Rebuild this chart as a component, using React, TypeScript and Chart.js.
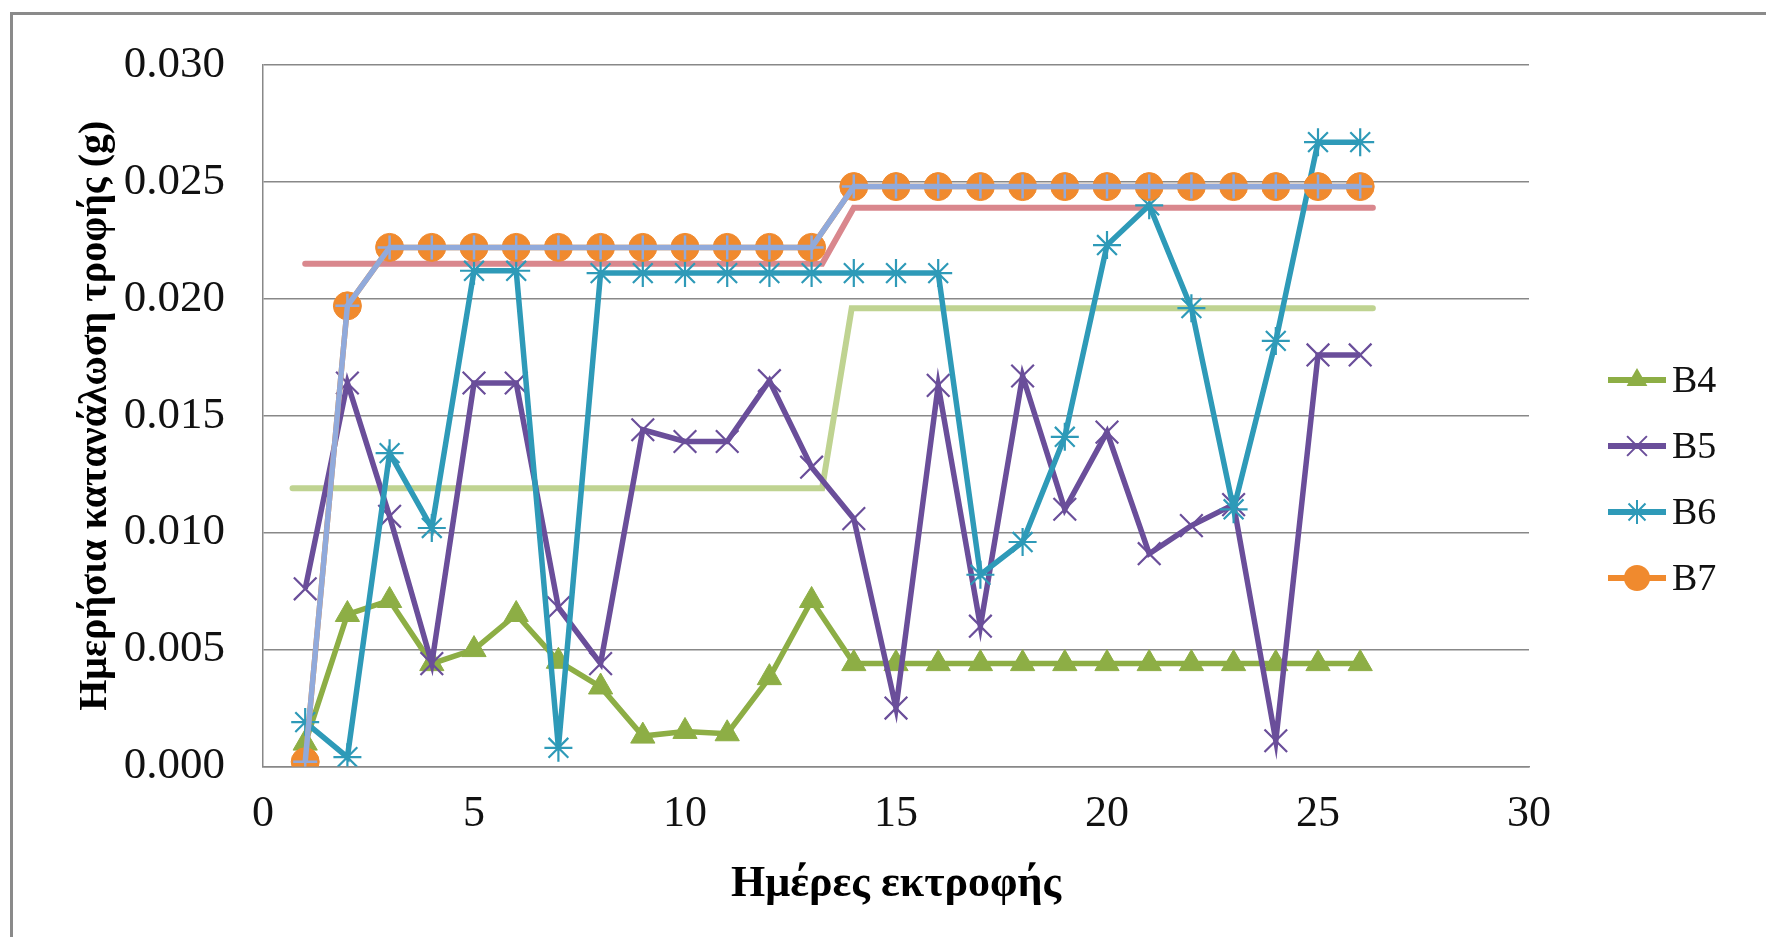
import React, { useEffect, useRef } from "react";
import { Chart, registerables } from "chart.js";

Chart.register(...registerables);

// ---- data ----
const days = [1, 2, 3, 4, 5, 6, 7, 8, 9, 10, 11, 12, 13, 14, 15, 16, 17, 18, 19, 20, 21, 22, 23, 24, 25, 26];
const b4 = [0.001, 0.0065, 0.0071, 0.0044, 0.005, 0.0065, 0.0045, 0.0034, 0.0013, 0.0015, 0.0014, 0.0038, 0.0071, 0.0044, 0.0044, 0.0044, 0.0044, 0.0044, 0.0044, 0.0044, 0.0044, 0.0044, 0.0044, 0.0044, 0.0044, 0.0044];
const b5 = [0.0076, 0.0164, 0.0107, 0.0044, 0.0164, 0.0164, 0.0068, 0.0044, 0.0144, 0.0139, 0.0139, 0.0165, 0.0128, 0.0106, 0.0025, 0.0163, 0.006, 0.0167, 0.011, 0.0143, 0.0091, 0.0103, 0.0112, 0.0011, 0.0176, 0.0176];
const b6 = [0.0019, 0.0004, 0.0134, 0.0102, 0.0212, 0.0212, 0.0008, 0.0211, 0.0211, 0.0211, 0.0211, 0.0211, 0.0211, 0.0211, 0.0211, 0.0211, 0.0082, 0.0096, 0.0141, 0.0223, 0.024, 0.0196, 0.011, 0.0182, 0.0267, 0.0267];
const b7 = [0.0002, 0.0197, 0.0222, 0.0222, 0.0222, 0.0222, 0.0222, 0.0222, 0.0222, 0.0222, 0.0222, 0.0222, 0.0222, 0.0248, 0.0248, 0.0248, 0.0248, 0.0248, 0.0248, 0.0248, 0.0248, 0.0248, 0.0248, 0.0248, 0.0248, 0.0248];
// unlabelled series drawn in light colours (no legend entry)
const blueOverlay = [0.0002, 0.0197, 0.0222, 0.0222, 0.0222, 0.0222, 0.0222, 0.0222, 0.0222, 0.0222, 0.0222, 0.0222, 0.0222, 0.0248, 0.0248, 0.0248, 0.0248, 0.0248, 0.0248, 0.0248, 0.0248, 0.0248, 0.0248, 0.0248, 0.0248, 0.0248];
const greenStepX = [0.7, 13.25, 13.95, 26.3];
const greenStepY = [0.0119, 0.0119, 0.0196, 0.0196];
const pinkStepX = [1, 13.25, 14, 26.3];
const pinkStepY = [0.0215, 0.0215, 0.0239, 0.0239];

const legendNames = ["B4", "B5", "B6", "B7"];
const xAxisTitle = "Ημέρες εκτροφής";
const yAxisTitle = "Ημερήσια κατανάλωση τροφής (g)";

const FONT = "'Liberation Serif', 'Times New Roman', serif";

const C_B4 = "#8DAE45";
const C_B5 = "#6A4E9A";
const C_B6 = "#2E9AB8";
const C_B7 = "#F08A2E";
const C_BLUE = "#91AADB";
const C_GREEN = "#BFD391";
const C_PINK = "#D9878D";

function pts(xs: number[], ys: number[]) {
  return xs.map((x, i) => ({ x, y: ys[i] }));
}

function drawMarker(ctx: CanvasRenderingContext2D, style: string, x: number, y: number, r: number, color: string) {
  ctx.save();
  ctx.fillStyle = color;
  ctx.strokeStyle = color;
  ctx.lineWidth = 2;
  ctx.beginPath();
  if (style === "triangle") {
    ctx.moveTo(x, y - r);
    ctx.lineTo(x + 0.866 * r, y + 0.5 * r);
    ctx.lineTo(x - 0.866 * r, y + 0.5 * r);
    ctx.closePath();
    ctx.fill();
  } else if (style === "circle") {
    ctx.arc(x, y, r, 0, Math.PI * 2);
    ctx.fill();
  } else {
    const o = r * 0.7071;
    ctx.moveTo(x - o, y - o);
    ctx.lineTo(x + o, y + o);
    ctx.moveTo(x + o, y - o);
    ctx.lineTo(x - o, y + o);
    if (style === "star") {
      ctx.moveTo(x, y - r);
      ctx.lineTo(x, y + r);
    }
    ctx.stroke();
  }
  ctx.restore();
}

const legendPlugin = {
  id: "excelLegend",
  afterDraw(chart: any) {
    const ctx: CanvasRenderingContext2D = chart.ctx;
    const entries = [
      { color: C_B4, style: "triangle", r: 12 },
      { color: C_B5, style: "crossRot", r: 14 },
      { color: C_B6, style: "star", r: 12 },
      { color: C_B7, style: "circle", r: 13 },
    ];
    ctx.save();
    legendNames.forEach((name, i) => {
      const e = entries[i];
      const y = 380 + i * 66;
      ctx.strokeStyle = e.color;
      ctx.lineWidth = 6;
      ctx.lineCap = "butt";
      ctx.beginPath();
      ctx.moveTo(1608, y);
      ctx.lineTo(1666, y);
      ctx.stroke();
      drawMarker(ctx, e.style, 1637, y, e.r, e.color);
      ctx.fillStyle = "#111";
      ctx.font = `38px ${FONT}`;
      ctx.textBaseline = "middle";
      ctx.textAlign = "left";
      ctx.fillText(name, 1672, y + 2);
    });
    ctx.restore();
  },
};

export default function App() {
  const ref = useRef<HTMLCanvasElement | null>(null);

  useEffect(() => {
    if (!ref.current) return;
    const line = (label: string, data: any[], color: string, width: number, extra: any) => ({
      label,
      data,
      showLine: true,
      borderColor: color,
      backgroundColor: color,
      borderWidth: width,
      pointBackgroundColor: color,
      pointBorderColor: color,
      tension: 0,
      ...extra,
    });
    const chart = new Chart(ref.current, {
      type: "scatter",
      data: {
        datasets: [
          line("S1", pts(days, blueOverlay), C_BLUE, 5.5, { pointStyle: "cross", pointRadius: 12, pointBorderWidth: 2.5 }),
          line("B7", pts(days, b7), C_B7, 5.5, { pointStyle: "circle", pointRadius: 14, pointBorderWidth: 1 }),
          line("B6", pts(days, b6), C_B6, 5.5, { pointStyle: "star", pointRadius: 14, pointBorderWidth: 2.2 }),
          line("B5", pts(days, b5), C_B5, 5.5, { pointStyle: "crossRot", pointRadius: 16, pointBorderWidth: 2.2 }),
          line("B4", pts(days, b4), C_B4, 5.5, { pointStyle: "triangle", pointRadius: 14, pointBorderWidth: 1 }),
          line("S3", pts(greenStepX, greenStepY), C_GREEN, 6, { pointRadius: 0, borderCapStyle: "round" }),
          line("S2", pts(pinkStepX, pinkStepY), C_PINK, 6, { pointRadius: 0, borderCapStyle: "round" }),
        ],
      },
      options: {
        responsive: false,
        animation: false,
        devicePixelRatio: 1,
        layout: { padding: { top: 57, right: 237, bottom: 0, left: 0 } },
        plugins: {
          legend: { display: false },
          tooltip: { enabled: false },
        },
        scales: {
          x: {
            type: "linear",
            min: 0,
            max: 30,
            ticks: {
              stepSize: 5,
              padding: 22,
              color: "#111",
              font: { family: FONT, size: 44 },
            },
            grid: { display: false, drawTicks: false },
            border: { display: true, color: "#888", width: 1.5 },
            title: {
              display: true,
              text: xAxisTitle,
              color: "#000",
              font: { family: FONT, size: 44, weight: "bold" },
              padding: { top: 0, bottom: 26 },
            },
            afterFit: (s: any) => {
              s.height = 170.5;
            },
          },
          y: {
            type: "linear",
            min: 0,
            max: 0.03,
            ticks: {
              stepSize: 0.005,
              padding: 38,
              color: "#111",
              font: { family: FONT, size: 45 },
              callback: (v: any) => Number(v).toFixed(3),
            },
            grid: { color: "#888", lineWidth: 1.5, drawTicks: false },
            border: { display: true, color: "#888", width: 1.5 },
            title: {
              display: true,
              text: yAxisTitle,
              color: "#000",
              font: { family: FONT, size: 40, weight: "bold" },
              padding: { top: 72, bottom: 0 },
            },
            afterFit: (s: any) => {
              s.width = 263;
            },
          },
        },
      } as any,
      plugins: [legendPlugin],
    });
    return () => chart.destroy();
  }, []);

  return (
    <div
      style={{
        position: "fixed",
        left: 0,
        top: 0,
        width: 1766,
        height: 937,
        overflow: "hidden",
        background: "#fff",
      }}
    >
      <div
        style={{
          position: "absolute",
          left: 10,
          top: 12,
          width: 1800,
          height: 1000,
          border: "3px solid #8a8a8a",
          boxSizing: "border-box",
        }}
      />
      <canvas
        ref={ref}
        width={1766}
        height={937}
        style={{ position: "absolute", left: 0, top: 0, width: 1766, height: 937 }}
      />
    </div>
  );
}
